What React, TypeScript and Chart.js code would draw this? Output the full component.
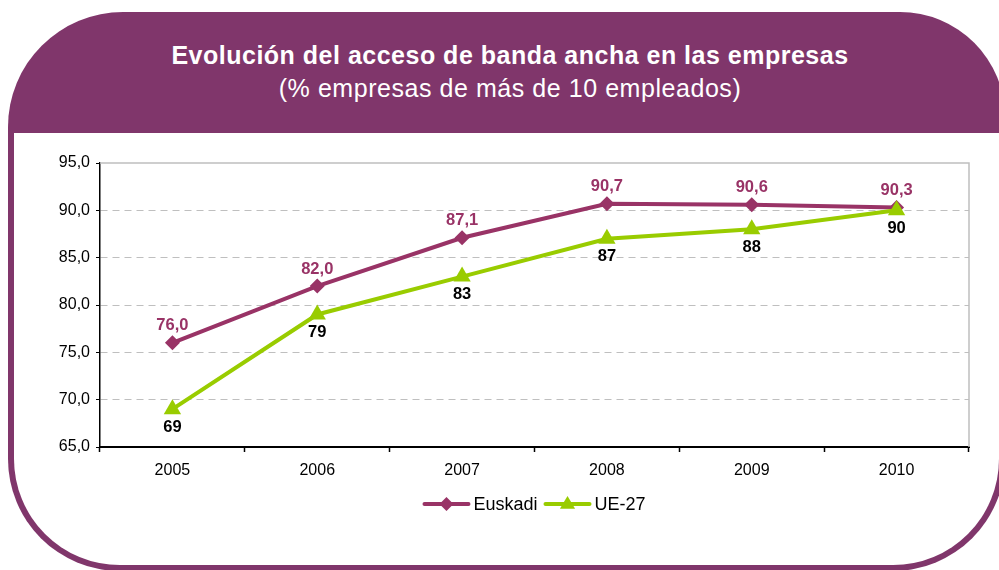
import React, { useEffect, useRef } from "react";
import { Chart, registerables } from "chart.js";

Chart.register(...registerables);

// ---- data ----
const categories = ["2005", "2006", "2007", "2008", "2009", "2010"];
const euskadiValues = [76.0, 82.0, 87.1, 90.7, 90.6, 90.3];
const ue27Values = [69, 79, 83, 87, 88, 90];
const seriesNames = ["Euskadi", "UE-27"];
const yMin = 65;
const yMax = 95;
const yStep = 5;
const titleText = "Evolución del acceso de banda ancha en las empresas";
const subtitleText = "(% empresas de más de 10 empleados)";

// ---- styles ----
const FRAME = "#80366B";
const C_EUS = "#993366";
const C_UE = "#99CC00";
const FONT = "'Liberation Sans', Arial, Helvetica, sans-serif";

const fmtComma = (v: number) => v.toFixed(1).replace(".", ",");

const plotBorder = {
  id: "plotBorder",
  beforeDatasetsDraw(chart: any) {
    const { ctx, chartArea: a } = chart;
    ctx.save();
    ctx.strokeStyle = "#BFBFBF";
    ctx.lineWidth = 1.5;
    ctx.beginPath();
    ctx.moveTo(a.left, a.top);
    ctx.lineTo(a.right, a.top);
    ctx.lineTo(a.right, a.bottom);
    ctx.stroke();
    ctx.restore();
  },
};

const valueLabels = {
  id: "valueLabels",
  afterDatasetsDraw(chart: any) {
    const ctx = chart.ctx;
    chart.data.datasets.forEach((ds: any, i: number) => {
      const meta = chart.getDatasetMeta(i);
      const above = i === 0;
      ctx.save();
      ctx.font = `bold 16.5px ${FONT}`;
      ctx.fillStyle = above ? C_EUS : "#000000";
      ctx.textAlign = "center";
      ctx.textBaseline = "middle";
      meta.data.forEach((pt: any, j: number) => {
        const v = ds.data[j] as number;
        const txt = above ? fmtComma(v) : String(v);
        ctx.fillText(txt, pt.x, pt.y + (above ? -17 : 18));
      });
      ctx.restore();
    });
  },
};

function drawMarker(ctx: CanvasRenderingContext2D, style: string, x: number, y: number, r: number, color: string) {
  ctx.save();
  ctx.fillStyle = color;
  ctx.beginPath();
  if (style === "rectRot") {
    ctx.moveTo(x, y - r);
    ctx.lineTo(x + r, y);
    ctx.lineTo(x, y + r);
    ctx.lineTo(x - r, y);
  } else {
    ctx.moveTo(x, y - r);
    ctx.lineTo(x + r * 0.95, y + r * 0.6);
    ctx.lineTo(x - r * 0.95, y + r * 0.6);
  }
  ctx.closePath();
  ctx.fill();
  ctx.restore();
}

const customLegend = {
  id: "customLegend",
  afterDraw(chart: any) {
    const ctx = chart.ctx;
    const a = chart.chartArea;
    const y = a.bottom + 57;
    const lineLen = 46;
    const gapText = 4;
    const gapItem = 7;
    ctx.save();
    ctx.font = `18px ${FONT}`;
    const items = chart.data.datasets.map((ds: any) => ({
      label: ds.label,
      color: ds.borderColor,
      style: ds.pointStyle,
      w: ctx.measureText(ds.label).width,
    }));
    const total = items.reduce((s: number, it: any) => s + lineLen + gapText + it.w, 0) + gapItem * (items.length - 1);
    let x = (a.left + a.right) / 2 - total / 2;
    items.forEach((it: any) => {
      ctx.strokeStyle = it.color;
      ctx.lineWidth = 4;
      ctx.lineCap = "round";
      ctx.beginPath();
      ctx.moveTo(x + 1, y);
      ctx.lineTo(x + lineLen - 1, y);
      ctx.stroke();
      drawMarker(ctx, it.style, x + lineLen / 2, y, it.style === "rectRot" ? 7 : 8, it.color);
      ctx.fillStyle = "#000000";
      ctx.textAlign = "left";
      ctx.textBaseline = "middle";
      ctx.fillText(it.label, x + lineLen + gapText, y + 1);
      x += lineLen + gapText + it.w + gapItem;
    });
    ctx.restore();
  },
};

function LineChart() {
  const ref = useRef<HTMLCanvasElement | null>(null);
  useEffect(() => {
    if (!ref.current) return;
    const chart = new Chart(ref.current, {
      type: "line",
      data: {
        labels: categories,
        datasets: [
          {
            label: seriesNames[0],
            data: euskadiValues,
            borderColor: C_EUS,
            backgroundColor: C_EUS,
            borderWidth: 4,
            pointStyle: "rectRot",
            pointRadius: 7.5,
            pointBorderWidth: 0,
            pointBackgroundColor: C_EUS,
            tension: 0,
            order: 1,
          },
          {
            label: seriesNames[1],
            data: ue27Values,
            borderColor: C_UE,
            backgroundColor: C_UE,
            borderWidth: 4,
            pointStyle: "triangle",
            pointRadius: 10,
            pointBorderWidth: 0,
            pointBackgroundColor: C_UE,
            tension: 0,
            order: 0,
          },
        ],
      },
      options: {
        responsive: false,
        animation: false,
        layout: { padding: { top: 163, right: 30, left: 0, bottom: 0 } },
        plugins: {
          legend: { display: false },
          tooltip: { enabled: false },
          title: { display: false },
        },
        scales: {
          x: {
            type: "category",
            offset: true,
            afterFit: (s: any) => {
              s.height = 123;
            },
            grid: {
              offset: true,
              drawOnChartArea: false,
              drawTicks: true,
              tickLength: 5,
              tickColor: "#000000",
              tickWidth: 1.5,
            },
            border: { display: true, color: "#000000", width: 2 },
            ticks: {
              color: "#000000",
              font: { family: FONT, size: 16 },
              padding: 9,
              maxRotation: 0,
            },
          },
          y: {
            min: yMin,
            max: yMax,
            afterFit: (s: any) => {
              s.width = 100;
            },
            grid: {
              color: (c: any) => (c.tick && (c.tick.value === yMin || c.tick.value === yMax) ? "rgba(0,0,0,0)" : "#BFBFBF"),
              lineWidth: 1,
              borderDash: [7, 5],
              tickLength: 4,
              tickColor: "#000000",
              tickWidth: 1,
              tickBorderDash: [],
            } as any,
            border: { display: true, color: "#000000", width: 1.5, dash: [7, 5] },
            ticks: {
              stepSize: yStep,
              color: "#000000",
              font: { family: FONT, size: 16 },
              padding: 6,
              callback: (v: any) => fmtComma(Number(v)),
            },
          },
        },
      },
      plugins: [plotBorder, valueLabels, customLegend],
    } as any);
    return () => chart.destroy();
  }, []);
  return <canvas ref={ref} width={999} height={570} style={{ position: "absolute", left: 0, top: 0, width: 999, height: 570 }} />;
}

export default function App() {
  return (
    <div style={{ position: "fixed", left: 0, top: 0, width: 999, height: 570, overflow: "hidden", background: "#ffffff" }}>
      <div
        style={{
          position: "absolute",
          left: 8,
          top: 12,
          width: 997,
          height: 559,
          background: FRAME,
          borderRadius: "115px 105px 112px 112px",
        }}
      />
      <div
        style={{
          position: "absolute",
          left: 14,
          top: 133,
          width: 985,
          height: 432,
          background: "#ffffff",
          borderRadius: "0 0 106px 106px",
        }}
      />
      <div
        style={{
          position: "absolute",
          left: 0,
          top: 43,
          width: 1020,
          textAlign: "center",
          color: "#ffffff",
          fontFamily: FONT,
          fontWeight: "bold",
          fontSize: 25,
          lineHeight: "25px",
          letterSpacing: "0.5px",
          whiteSpace: "nowrap",
        }}
      >
        {titleText}
      </div>
      <div
        style={{
          position: "absolute",
          left: 0,
          top: 76,
          width: 1020,
          textAlign: "center",
          color: "#ffffff",
          fontFamily: FONT,
          fontSize: 25,
          lineHeight: "25px",
          letterSpacing: "0.55px",
          whiteSpace: "nowrap",
        }}
      >
        {subtitleText}
      </div>
      <LineChart />
    </div>
  );
}
